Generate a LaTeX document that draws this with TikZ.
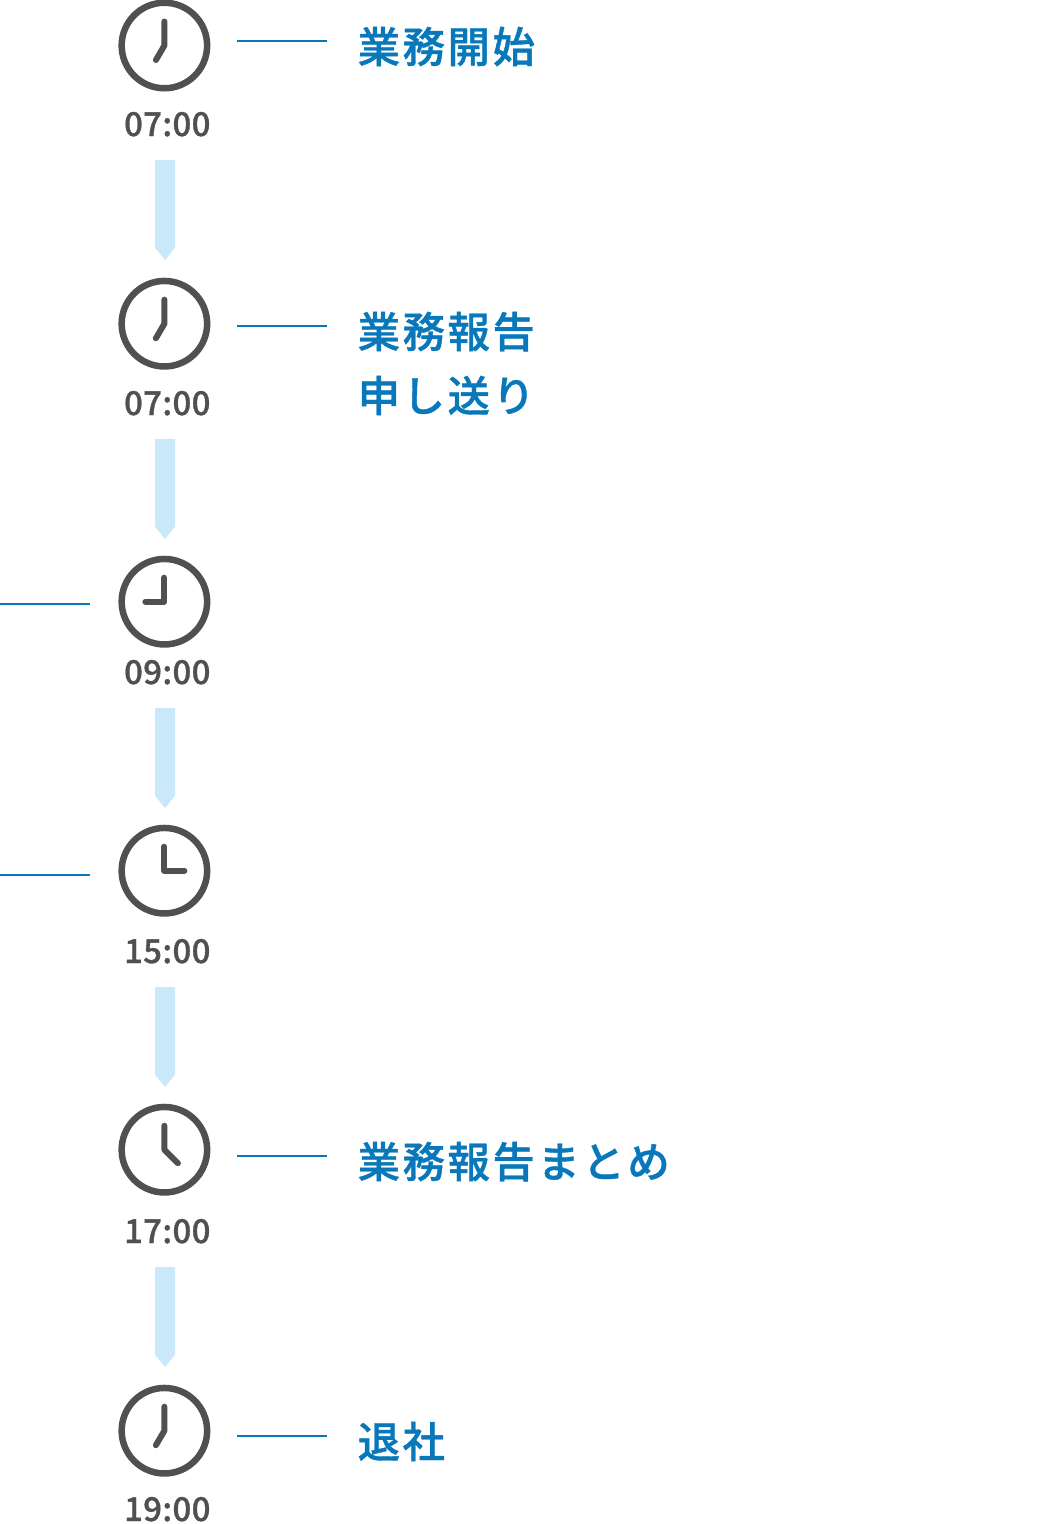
\documentclass[tikz,border=0pt]{standalone}
\usepackage{fontspec}
\setmainfont{Noto Sans CJK JP}
\newfontfamily\jpfont[LetterSpace=6,FakeBold=0.9]{Noto Sans CJK JP Medium}
\newfontfamily\timefont[LetterSpace=1,FakeBold=0.9]{Noto Sans CJK JP Medium}
\definecolor{clockgray}{HTML}{505050}
\definecolor{leadblue}{HTML}{0878BA}
\definecolor{stepblue}{HTML}{C9E8FA}
\tikzset{
	clockface/.style={circle, draw=clockgray, line width=6.5pt, minimum size=85.5pt, inner sep=0pt},
	clockhand/.style={draw=clockgray, line width=6pt, line cap=round, line join=round},
	timelabel/.style={anchor=base, text=clockgray, font=\timefont\fontsize{33}{33}\selectfont, inner sep=0pt},
	tasklabel/.style={anchor=base west, text=leadblue, font=\jpfont\fontsize{42.4}{42.4}\selectfont, inner sep=0pt},
	leadline/.style={draw=leadblue, line width=1.5pt}
}
\begin{document}
\begin{tikzpicture}[x=1pt,y=-1pt]
	\useasboundingbox (0,0) rectangle (1060,1524);
	% clocks, hand end points are relative to the centre
	\foreach \n/\y/\t/\ty in {a/45.5/07:00/136,b/323.7/07:00/415,c/601.7/09:00/684,d/870.7/15:00/963,e/1149.7/17:00/1243,f/1430.7/19:00/1521}{
		\node[clockface] (clock\n) at (164.4,\y) {};
		\node[timelabel] (time\n) at (167.3,\ty) {\t};
	}
	\draw[clockhand] ([yshift=24pt]clocka.center) -- (clocka.center) -- ++(-8.5,14.5);
	\draw[clockhand] ([yshift=24pt]clockb.center) -- (clockb.center) -- ++(-8.5,14.5);
	\draw[clockhand] ([yshift=24pt]clockc.center) -- (clockc.center) -- ++(-19,0);
	\draw[clockhand] ([yshift=24pt]clockd.center) -- (clockd.center) -- ++(20,0);
	\draw[clockhand] ([yshift=24pt]clocke.center) -- (clocke.center) -- ++(13.5,13.5);
	\draw[clockhand] ([yshift=24pt]clockf.center) -- (clockf.center) -- ++(-8.5,14.5);
	% arrows between the clocks
	\foreach \y in {160,439,708,987,1267}
		\fill[stepblue, shift={(165,\y)}] (-10,0) -- (10,0) -- (10,87.5) -- (0,100) -- (-10,87.5) -- cycle;
	% leader lines
	\foreach \n/\xa/\xb/\y in {a/237/327/41,b/237/327/326,c/0/90/604,d/0/90/875,e/237/327/1156,f/237/327/1436}{
		\coordinate (from\n) at (\xa,\y);
		\coordinate (to\n) at (\xb,\y);
		\draw[leadline] (from\n) -- (to\n);
	}
	% tasks
	\node[tasklabel] (taska) at (357.5,62.6) {業務開始};
	\node[tasklabel] (taskb) at (357.5,347.6) {業務報告};
	\node[tasklabel] (taskc) at (357.5,411.6) {申し送り};
	\node[tasklabel] (taske) at (357.5,1177.6) {業務報告まとめ};
	\node[tasklabel] (taskf) at (357.5,1457.6) {退社};
\end{tikzpicture}
\end{document}
